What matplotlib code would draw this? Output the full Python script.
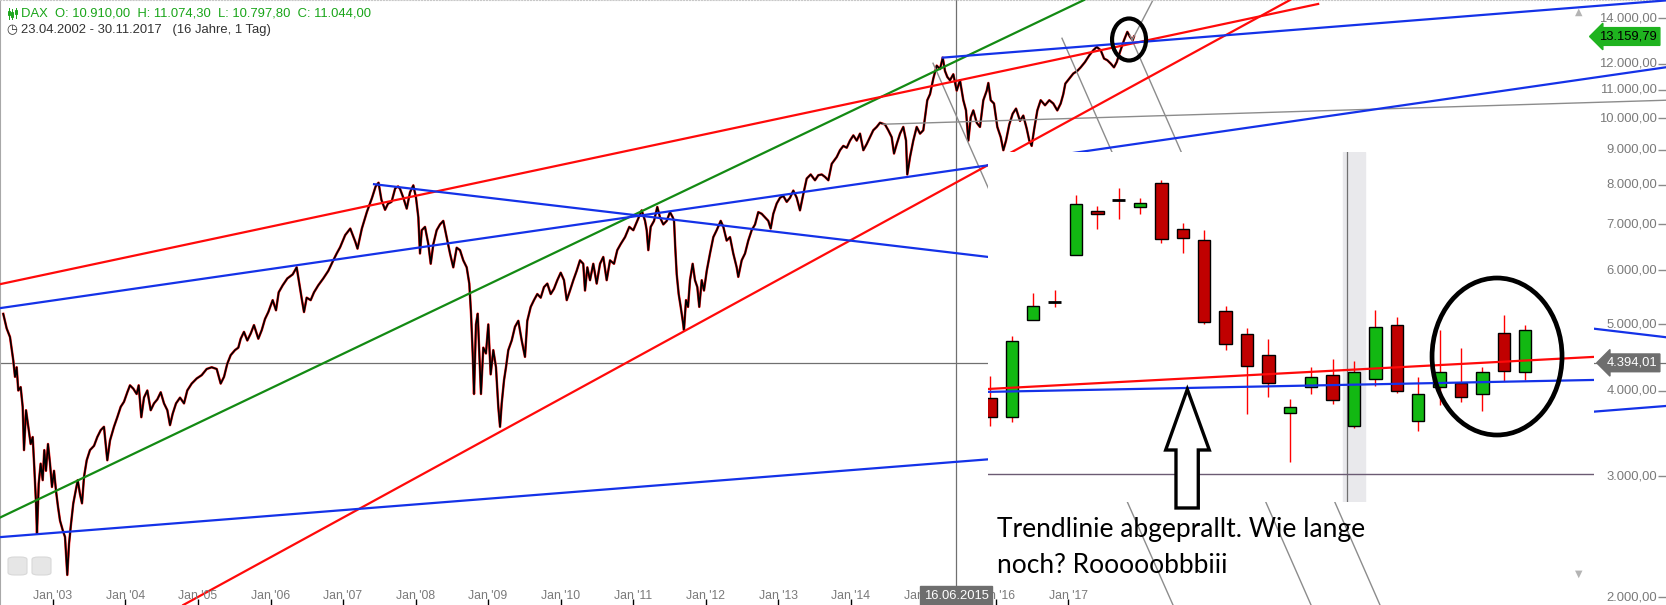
import matplotlib
matplotlib.use('Agg')
import matplotlib.pyplot as plt
from matplotlib.patches import Ellipse, Polygon, FancyBboxPatch, Rectangle
from matplotlib.lines import Line2D
from matplotlib.ticker import FixedLocator, NullLocator
import numpy as np

# ---------------- data ----------------
dax_t = [2002.314,2002.361,2002.407,2002.452,2002.476,2002.499,2002.521,2002.554,2002.582,2002.600,2002.628,2002.659,2002.692,2002.720,2002.742,2002.766,2002.779,2002.803,2002.830,2002.858,2002.880,2002.903,2002.931,2002.959,2002.986,
2003.014,2003.041,2003.069,2003.097,2003.134,2003.166,2003.197,2003.221,2003.248,2003.280,2003.313,2003.341,2003.372,2003.400,2003.428,2003.465,2003.510,2003.566,2003.611,2003.658,2003.703,2003.749,2003.786,2003.841,2003.887,2003.934,2003.979,
2004.025,2004.062,2004.108,2004.154,2004.182,2004.218,2004.255,2004.301,2004.348,2004.393,2004.439,2004.486,2004.531,2004.577,2004.614,2004.651,2004.697,2004.752,2004.807,2004.852,2004.913,2004.982,
2005.051,2005.120,2005.189,2005.258,2005.313,2005.359,2005.404,2005.451,2005.510,2005.556,2005.589,2005.634,2005.680,2005.727,2005.772,2005.832,2005.879,2005.924,2005.970,
2006.030,2006.076,2006.113,2006.168,2006.232,2006.306,2006.361,2006.397,2006.434,2006.462,2006.499,2006.554,2006.600,2006.659,2006.728,2006.797,2006.866,2006.913,2006.960,
2007.030,2007.100,2007.170,2007.200,2007.260,2007.330,2007.400,2007.450,2007.490,2007.530,2007.580,2007.620,2007.670,2007.720,2007.760,2007.786,2007.832,2007.879,2007.924,2007.970,
2008.007,2008.039,2008.062,2008.086,2008.131,2008.177,2008.210,2008.246,2008.292,2008.338,2008.383,2008.430,2008.476,2008.521,2008.568,2008.614,2008.659,2008.706,2008.742,2008.766,2008.789,2008.807,2008.834,2008.858,2008.880,2008.903,2008.935,2008.972,
2009.004,2009.037,2009.073,2009.110,2009.142,2009.166,2009.189,2009.221,2009.248,2009.280,2009.327,2009.372,2009.418,2009.465,2009.510,2009.542,2009.589,2009.634,2009.680,2009.727,2009.772,2009.818,2009.865,2009.910,2009.956,
2010.003,2010.048,2010.086,2010.131,2010.177,2010.223,2010.269,2010.314,2010.338,2010.370,2010.407,2010.452,2010.499,2010.545,2010.590,2010.637,2010.683,2010.738,2010.783,2010.830,2010.890,2010.949,
2011.004,2011.059,2011.120,2011.166,2011.189,2011.211,2011.244,2011.290,2011.335,2011.372,2011.418,2011.465,2011.510,2011.548,2011.566,2011.583,2011.603,2011.630,2011.658,2011.686,2011.703,2011.731,2011.759,2011.786,2011.823,2011.855,2011.887,2011.914,2011.948,2011.979,
2012.017,2012.062,2012.108,2012.154,2012.210,2012.246,2012.292,2012.338,2012.383,2012.430,2012.452,2012.499,2012.545,2012.590,2012.637,2012.683,2012.728,2012.775,2012.821,2012.866,2012.899,2012.935,2012.982,
2013.028,2013.073,2013.120,2013.166,2013.211,2013.258,2013.303,2013.349,2013.396,2013.451,2013.510,2013.556,2013.603,2013.648,2013.694,2013.741,2013.810,2013.855,2013.901,2013.948,2013.993,
2014.039,2014.086,2014.131,2014.177,2014.223,2014.269,2014.314,2014.361,2014.407,2014.476,2014.521,2014.568,2014.600,2014.637,2014.683,2014.728,2014.766,2014.783,2014.821,2014.866,2014.913,2014.959,
2015.004,2015.028,2015.059,2015.097,2015.142,2015.189,2015.234,2015.272,2015.303,2015.335,2015.372,2015.418,2015.465,2015.510,2015.556,2015.593,2015.625,2015.658,2015.694,2015.741,2015.786,2015.832,2015.879,2015.901,2015.934,2015.979,
2016.025,2016.072,2016.108,2016.145,2016.190,2016.237,2016.283,2016.338,2016.383,2016.430,2016.466,2016.499,2016.531,2016.577,2016.623,2016.683,2016.742,2016.797,2016.852,2016.899,2016.935,2016.963,
2017.018,2017.073,2017.128,2017.175,2017.234,2017.294,2017.349,2017.396,2017.451,2017.497,2017.542,2017.589,2017.634,2017.672,2017.717,2017.772,2017.818,2017.855,2017.892,2017.910]

dax_v = [5180,4933,4792,4432,4192,4329,4004,4050,3790,3277,3747,3544,3345,3424,3093,2740,2476,2929,3131,2962,3277,3057,3345,3131,2895,
3057,2861,2709,2585,2504,2447,2154,2390,2554,2740,2861,2962,2828,2740,2996,3167,3277,3325,3424,3504,3544,3167,3384,3544,3660,3790,3855,
3980,4074,4028,3957,4074,3660,3909,4004,3747,3834,3886,3980,3834,3747,3564,3704,3834,3909,3834,4004,4098,4169,
4216,4304,4329,4304,4098,4192,4381,4509,4586,4624,4765,4876,4737,4849,4988,4765,4904,5091,5212,
5425,5243,5569,5702,5835,5915,6057,5735,5425,5212,5470,5425,5569,5702,5835,5986,6201,6346,6480,
6750,6900,6600,6450,6900,7300,7650,7950,8050,7600,7350,7500,7550,7900,7950,7887,7654,7379,7793,7979,
7654,7165,6346,6862,6939,6550,6130,6550,6862,6997,7081,6705,6346,6057,6470,6417,6201,6057,5735,5183,4535,3957,5000,5183,4535,3957,4624,4535,
5000,4227,4586,4329,3790,3544,3834,4145,4329,4586,4737,4960,5061,4737,4483,5061,5303,5425,5537,5470,5668,5735,5537,5636,5801,
5949,5801,5425,5603,5801,5986,6201,6130,5603,6057,5801,6130,5735,6130,6272,5801,6201,6130,6417,6550,6705,6939,
6862,7081,7336,7081,6862,6417,6939,7081,7420,7165,6997,7081,7292,7165,7081,6470,5915,5537,5303,5061,4904,5425,5303,5801,6130,5801,5668,5303,5801,5603,
5986,6346,6705,6862,7081,6939,6627,6705,6346,6057,5866,6201,6346,6627,6862,6997,7292,7251,7165,7081,6902,7251,7507,
7654,7701,7548,7654,7840,7654,7336,7748,8164,8276,8117,8256,8276,8209,8117,8578,8777,8979,9110,9054,9274,
9438,9274,9494,8979,9165,9382,9602,9710,9848,9790,9602,9382,8880,9165,9494,9710,9274,8276,8777,9274,9710,9494,
9602,10026,10622,10843,11425,11932,11792,12257,11721,11487,11359,11591,10971,11359,10622,10265,9274,10026,10265,9848,9710,10622,10971,11256,10622,10505,
9710,9382,8979,9274,9790,10152,10327,9908,10087,9658,9274,9110,9602,10265,10622,10444,10622,10505,10265,10505,10843,11232,
11425,11619,11721,11864,12076,12355,12565,12704,12565,12219,12150,12015,11864,12076,12494,12994,13365,13141,12994,13160]

# trend lines: (t0, v0, t1, v1)
red_lines = [(2002.269, 5724, 2020.450, 14680),
             (2004.797, 1947, 2020.062, 14877)]
blue_lines = [(2002.269, 5281, 2025.248, 11867),
              (2002.269, 2446, 2025.248, 3801),
              (2007.428, 8010, 2025.248, 4789),
              (2015.272, 12257, 2025.248, 14855)]
green_lines = [(2002.269, 2612, 2017.221, 14877)]
gray_lines = [(2014.448, 9799, 2025.248, 10622),
              (2015.138, 12028, 2018.448, 1947),
              (2016.917, 13081, 2020.352, 1947),
              (2017.855, 13215, 2021.303, 1947),
              (2017.883, 12994, 2018.172, 14877)]

years = list(range(2003, 2018))
year_labels = ["Jan '%02d" % (y % 100) for y in years]
y_ticks = [2000, 3000, 4000, 5000, 6000, 7000, 8000, 9000, 10000, 11000, 12000, 14000]
y_tick_labels = ["2.000,00", "3.000,00", "4.000,00", "5.000,00", "6.000,00", "7.000,00", "8.000,00",
                 "9.000,00", "10.000,00", "11.000,00", "12.000,00", "14.000,00"]
last_price = 13159.79
cross_t = 2015.455
cross_v = 4394.01

# inset candles
c_open  = [3900,3666,5080,5397,6307,7313,7596,7412,8035,6883,6633,5226,4837,4507,3708,4046,4213,3550,4157,4986,3610,4046,4101,3961,4853,4256]
c_high  = [4203,4809,5552,5614,7725,7445,7909,7640,8125,7038,6867,5320,4936,4761,3891,4333,4452,4422,5249,5127,4189,4907,4619,4333,5161,4991]
c_low   = [3553,3605,5080,5307,6307,6890,7133,7254,6580,6363,5012,4588,3700,3921,3151,3961,3830,3533,4068,3974,3498,3813,3856,3741,4137,4147]
c_close = [3659,4724,5314,5397,7487,7230,7596,7512,6656,6678,5046,4677,4344,4101,3784,4185,3874,4256,4952,3993,3953,4256,3912,4256,4270,4902]
inset_line_x = [-0.11, 28.22]
inset_red_v = [4023, 4481]
inset_blue_v = [3984, 4147]
inset_base_v = 3024
inset_mark_x = 16.68
inset_band = (16.50, 17.52)

# ---------------- figure ----------------
W, H = 1666, 605
fig = plt.figure(figsize=(W / 100, H / 100), dpi=100)
fig.patch.set_facecolor('white')
ax = fig.add_axes([0, 0, 1, 1])
ax.set_yscale('log')
ax.set_xlim(2002.269, 2025.248)
ax.set_ylim(1947, 14877)
for s in ['right', 'bottom']:
    ax.spines[s].set_visible(False)
ax.spines['left'].set_color('#a8a8a8')
ax.spines['top'].set_color('#c8c8c8')
ax.spines['top'].set_linestyle(':')

UI = 'Liberation Sans'
TXT = '#7a7a7a'

# x ticks
ax.xaxis.set_major_locator(FixedLocator(years))
ax.xaxis.set_minor_locator(NullLocator())
ax.tick_params(axis='x', direction='in', length=4, width=1, color='black', labelbottom=False)
xtr = ax.get_xaxis_transform()
for y, lab in zip(years, year_labels):
    ax.text(y, 0.0149, lab, transform=xtr, ha='center', va='center', fontsize=8.8,
            color=TXT, family=UI, zorder=5)

# y ticks
ax.yaxis.tick_right()
ax.yaxis.set_major_locator(FixedLocator(y_ticks))
ax.yaxis.set_minor_locator(NullLocator())
ax.tick_params(axis='y', direction='in', length=6, width=1, color='#8a8a8a', labelright=False)
ytr = ax.get_yaxis_transform()
for v, lab in zip(y_ticks, y_tick_labels):
    ax.text(0.9946, v, lab, transform=ytr, ha='right', va='center', fontsize=9.4,
            color=TXT, family=UI, zorder=5)

# crosshair
ax.axvline(cross_t, color='#707070', lw=0.9, zorder=1)
ax.axhline(cross_v, color='#707070', lw=0.9, zorder=1)

# price series (black bars with red down-days look)
ax.plot(dax_t, dax_v, color='#ff1a1a', lw=1.8, zorder=2)
ax.plot(dax_t, dax_v, color='black', lw=1.2, zorder=2.1)

for t0, v0, t1, v1 in gray_lines:
    ax.plot([t0, t1], [v0, v1], color='#8c8c8c', lw=1.0, zorder=2.5)
for t0, v0, t1, v1 in green_lines:
    ax.plot([t0, t1], [v0, v1], color='#138a13', lw=1.6, zorder=3)
for t0, v0, t1, v1 in red_lines:
    ax.plot([t0, t1], [v0, v1], color='#ff0a0a', lw=1.6, zorder=3)
for t0, v0, t1, v1 in blue_lines:
    ax.plot([t0, t1], [v0, v1], color='#1432e8', lw=1.6, zorder=3)

# last price label (green) and crosshair price label (gray)
ax.text(0.9946, last_price, "13.159,79", transform=ytr, ha='right', va='center', fontsize=9.4,
        color='black', family=UI, zorder=8,
        bbox=dict(boxstyle='larrow,pad=0.22', fc='#1fb31f', ec='#1fb31f'))
ax.text(0.9946, cross_v, "4.394,01", transform=ytr, ha='right', va='center', fontsize=9.4,
        color='white', family=UI, zorder=8,
        bbox=dict(boxstyle='larrow,pad=0.22', fc='#6e6e6e', ec='#6e6e6e'))
# crosshair date label
ax.text(cross_t, 0.0149, "16.06.2015", transform=xtr, ha='center', va='center', fontsize=9.4,
        color='white', family=UI, zorder=8,
        bbox=dict(boxstyle='square,pad=0.28', fc='#6e6e6e', ec='#6e6e6e'))

# circle at top
ax.add_patch(Ellipse((0.6777, 0.9347), 0.0204, 0.0694, transform=ax.transAxes,
                     fill=False, ec='black', lw=3.0, zorder=6))

# scroll arrows and corner icons
ax.text(1579 / W, 1 - 12 / H, '\u25B2', transform=ax.transAxes, ha='center', va='center',
        fontsize=7, color='#b4b4b4', zorder=5)
ax.text(1579 / W, 1 - 574 / H, '\u25BC', transform=ax.transAxes, ha='center', va='center',
        fontsize=7, color='#b4b4b4', zorder=5)
for x0 in (8, 32):
    ax.add_patch(FancyBboxPatch((x0 / W, 1 - 575 / H), 19 / W, 18 / H, transform=ax.transAxes,
                                boxstyle='round,pad=0.0,rounding_size=0.004', fc='#e6e6e6',
                                ec='#d8d8d8', lw=0.8, zorder=5))

# header icon (small candle glyph) drawn as shapes
for k, (top, bot, b0, b1) in enumerate([(8, 19, 11, 15), (9, 19, 12, 17), (8, 18, 10, 14)]):
    xp = (8.5 + 3.6 * k) / W
    fig.add_artist(Line2D([xp, xp], [1 - top / H, 1 - bot / H], color='#19a519', lw=0.7))
    fig.add_artist(Rectangle((xp - 1.0 / W, 1 - b1 / H), 2.0 / W, (b1 - b0) / H,
                             fc='white', ec='#19a519', lw=0.7))

# header
fig.text(21 / W, 1 - 13.5 / H, "DAX  O: 10.910,00  H: 11.074,30  L: 10.797,80  C: 11.044,00",
         ha='left', va='center', fontsize=9.4, color='#19a519', family=UI)
fig.text(6 / W, 1 - 29.5 / H, "\u25F7", ha='left', va='center', fontsize=9, color='#333333',
         family='DejaVu Sans')
fig.text(21 / W, 1 - 29.5 / H, "23.04.2002 - 30.11.2017   (16 Jahre, 1 Tag)",
         ha='left', va='center', fontsize=9.4, color='#333333', family=UI)

# ---------------- inset (pasted candle chart) ----------------
ax_in = fig.add_axes([988 / W, 1 - 502 / H, 606 / W, 350 / H])
ax_in.set_facecolor('white')
ax_in.set_yscale('log')
ax_in.set_ylim(2752, 8919)
ax_in.set_xlim(-0.11, 28.22)
ax_in.set_xticks([])
ax_in.set_yticks([])
ax_in.yaxis.set_minor_locator(NullLocator())
for s in ax_in.spines.values():
    s.set_visible(False)

ax_in.axvspan(inset_band[0], inset_band[1], color='#e9e9ec', zorder=0)
ax_in.axvline(inset_mark_x, color='#707070', lw=0.9, zorder=0.5)
ax_in.axhline(inset_base_v, color='#6b5b73', lw=1.0, zorder=0.5)

xi = np.arange(len(c_open))
for i in xi:
    o, h, l, c = c_open[i], c_high[i], c_low[i], c_close[i]
    ax_in.vlines(i, l, h, color='#ff0000', lw=1.0, zorder=2)
    if o == c:
        ax_in.hlines(o, i - 0.29, i + 0.29, color='black', lw=2.0, zorder=3)
    else:
        fc = '#12b812' if c > o else '#c00000'
        ax_in.bar(i, abs(c - o), bottom=min(o, c), width=0.58, color=fc,
                  edgecolor='black', linewidth=1.0, zorder=3)

ax_in.plot(inset_line_x, inset_red_v, color='#ff0a0a', lw=1.6, zorder=4)
ax_in.plot(inset_line_x, inset_blue_v, color='#1432e8', lw=1.6, zorder=4)

ax_in.add_patch(Ellipse((0.840, 0.4157), 0.2145, 0.4486, transform=ax_in.transAxes,
                        fill=False, ec='black', lw=3.4, zorder=6, clip_on=False))
arrow = [(0.3289, 0.322), (0.3652, 0.1486), (0.347, 0.1486), (0.347, -0.0171),
         (0.3102, -0.0171), (0.3102, 0.1486), (0.2932, 0.1486)]
ax_in.add_patch(Polygon(arrow, closed=True, transform=ax_in.transAxes, fc='white',
                        ec='black', lw=2.4, joinstyle='miter', zorder=7, clip_on=False))

# annotation text
fig.text(997 / W, 1 - 537 / H, "Trendlinie abgeprallt. Wie lange", ha='left', va='baseline',
         fontsize=19, color='black', family='Lato')
fig.text(997 / W, 1 - 573 / H, "noch? Rooooobbbiii", ha='left', va='baseline',
         fontsize=19, color='black', family='Lato')

fig.savefig('out.png', dpi=100, facecolor='white')
